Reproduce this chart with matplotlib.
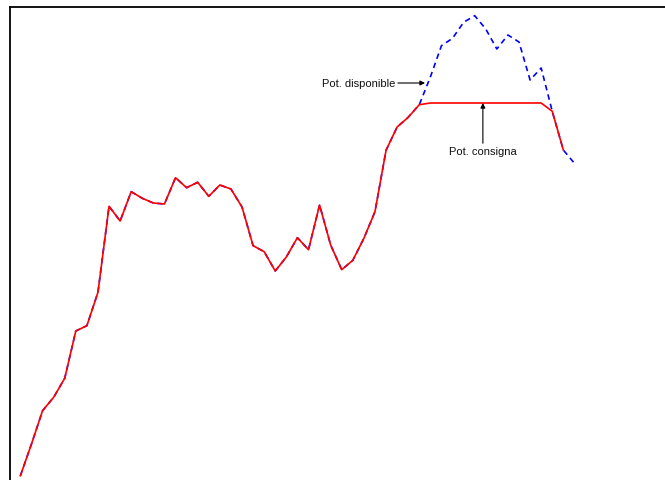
import numpy as np
import matplotlib
matplotlib.use("Agg")
import matplotlib.pyplot as plt

plt.rcParams['font.family'] = ['Liberation Sans', 'DejaVu Sans']
plt.rcParams['lines.scale_dashes'] = False

# Time steps
steps = list(range(51))

# Available power (dashed blue)
pot_disponible = [
    1.33, 4.5, 7.83, 9.17, 11.07, 15.8, 16.33, 19.67, 28.27, 26.8,
    29.73, 29.07, 28.6, 28.5, 31.13, 30.13, 30.67, 29.27, 30.4, 30.0,
    28.2, 24.33, 23.73, 21.8, 23.2, 25.13, 23.93, 28.4, 24.4, 21.93,
    22.87, 25.07, 27.73, 33.87, 36.2, 37.17, 38.43, 41.2, 44.33, 45.07,
    46.67, 47.33, 46.0, 44.0, 45.4, 44.7, 40.9, 42.1, 37.77, 33.9,
    32.57,
]

# Set-point limit
limite_consigna = 38.6

# Set-point power (solid red): available power clipped at the limit
n_consigna = 50
pot_consigna = list(np.minimum(pot_disponible[:n_consigna], limite_consigna))

fig = plt.figure(figsize=(6.65, 4.81), dpi=100)
W, H = 665, 481
left_px, top_px, right_px, bottom_px = 9.5, 8.3, 680.0, 495.0
ax = fig.add_axes([left_px / W, 1 - bottom_px / H,
                   (right_px - left_px) / W, (bottom_px - top_px) / H])

ax.plot(steps, pot_disponible, color='#0000ff', lw=1.2, dashes=(4, 3))
ax.plot(steps[:n_consigna], pot_consigna, color='#ff0000', lw=1.2)

ax.set_xlim(-0.984, 59.53)
ax.set_ylim(-0.5, 48.17)
ax.set_xticks([])
ax.set_yticks([])
for side in ('left', 'top', 'right', 'bottom'):
    ax.spines[side].set_color('black')
    ax.spines[side].set_linewidth(1.3)

arrow = dict(arrowstyle='-|>', color='black', lw=0.8,
             shrinkA=0, shrinkB=0, mutation_scale=7)

ax.annotate('Pot. disponible', xy=(36.52, 40.6), xytext=(27.2, 40.6),
            ha='left', va='center', fontsize=8, color='#111111',
            arrowprops=arrow)
ax.annotate('Pot. consigna', xy=(41.74, limite_consigna), xytext=(41.74, 33.8),
            ha='center', va='center', fontsize=8, color='#111111',
            arrowprops=arrow)

fig.savefig('out.png', dpi=100)
